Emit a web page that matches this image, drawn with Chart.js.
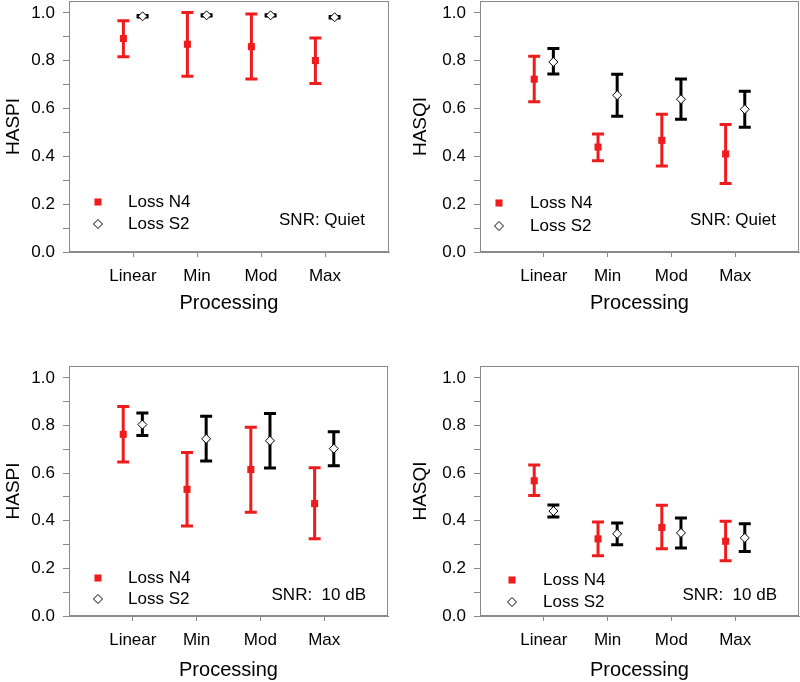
<!DOCTYPE html>
<html>
<head>
<meta charset="utf-8">
<script src="https://cdn.jsdelivr.net/npm/chart.js@4.4.1/dist/chart.umd.min.js"></script>
<style>
  body { margin: 0; background: #fff; }
  #wrap { position: relative; width: 800px; height: 682px; }
  canvas { position: absolute; }
</style>
</head>
<body>
<div id="wrap">
  <canvas id="c1" width="400" height="341" style="left:0;top:0"></canvas>
  <canvas id="c2" width="400" height="341" style="left:400px;top:0"></canvas>
  <canvas id="c3" width="400" height="341" style="left:0;top:341px"></canvas>
  <canvas id="c4" width="400" height="341" style="left:400px;top:341px"></canvas>
</div>
<script>
// categories and tick values
const categories = ['Linear', 'Min', 'Mod', 'Max'];
const yTickValues = [0, 0.1, 0.2, 0.3, 0.4, 0.5, 0.6, 0.7, 0.8, 0.9, 1.0];

// HASPI, quiet
const haspiQuietN4 = [0.893, 0.869, 0.859, 0.801];
const haspiQuietN4Lo = [0.817, 0.735, 0.724, 0.705];
const haspiQuietN4Hi = [0.967, 1.002, 0.996, 0.895];
const haspiQuietS2 = [0.986, 0.990, 0.990, 0.982];
const haspiQuietS2Lo = [0.983, 0.987, 0.987, 0.979];
const haspiQuietS2Hi = [0.989, 0.993, 0.993, 0.985];

// HASQI, quiet
const hasqiQuietN4 = [0.723, 0.439, 0.467, 0.410];
const hasqiQuietN4Lo = [0.629, 0.382, 0.360, 0.287];
const hasqiQuietN4Hi = [0.819, 0.494, 0.576, 0.533];
const hasqiQuietS2 = [0.795, 0.656, 0.639, 0.597];
const hasqiQuietS2Lo = [0.745, 0.568, 0.555, 0.522];
const hasqiQuietS2Hi = [0.851, 0.744, 0.724, 0.672];

// HASPI, 10 dB
const haspi10N4 = [0.763, 0.532, 0.615, 0.472];
const haspi10N4Lo = [0.647, 0.378, 0.436, 0.324];
const haspi10N4Hi = [0.880, 0.687, 0.793, 0.623];
const haspi10S2 = [0.804, 0.744, 0.736, 0.703];
const haspi10S2Lo = [0.758, 0.651, 0.622, 0.631];
const haspi10S2Hi = [0.853, 0.839, 0.851, 0.774];

// HASQI, 10 dB
const hasqi10N4 = [0.568, 0.324, 0.372, 0.314];
const hasqi10N4Lo = [0.506, 0.253, 0.282, 0.232];
const hasqi10N4Hi = [0.634, 0.395, 0.465, 0.398];
const hasqi10S2 = [0.441, 0.345, 0.349, 0.328];
const hasqi10S2Lo = [0.416, 0.299, 0.286, 0.271];
const hasqi10S2Hi = [0.466, 0.391, 0.412, 0.387];

const RED = '#ee1c1c';
const GRAY = '#8a8a8a';
Chart.defaults.font.family = '"Liberation Sans", Arial, sans-serif';
Chart.defaults.color = '#000';

const panels = [
  { id: 'c1', yTitle: 'HASPI', snr: 'SNR: Quiet',
    n4: [haspiQuietN4, haspiQuietN4Lo, haspiQuietN4Hi], s2: [haspiQuietS2, haspiQuietS2Lo, haspiQuietS2Hi],
    yW: 69, xH: 89, padR: 11, padT: 1, yTitlePad: 2, xTitlePad: 26,
    leg: { mx: 29, tx: 59, r1: -50, r2: -28, sx: -24, sy: -32 } },
  { id: 'c2', yTitle: 'HASQI', snr: 'SNR: Quiet',
    n4: [hasqiQuietN4, hasqiQuietN4Lo, hasqiQuietN4Hi], s2: [hasqiQuietS2, hasqiQuietS2Lo, hasqiQuietS2Hi],
    yW: 80, xH: 89, padR: 1, padT: 1, yTitlePad: 9, xTitlePad: 26,
    leg: { mx: 19, tx: 50, r1: -49, r2: -26, sx: -23, sy: -32 } },
  { id: 'c3', yTitle: 'HASPI', snr: 'SNR:  10 dB',
    n4: [haspi10N4, haspi10N4Lo, haspi10N4Hi], s2: [haspi10S2, haspi10S2Lo, haspi10S2Hi],
    yW: 69, xH: 66, padR: 12, padT: 25, yTitlePad: 2, xTitlePad: 0,
    leg: { mx: 29, tx: 59, r1: -38, r2: -17, sx: -22, sy: -21 } },
  { id: 'c4', yTitle: 'HASQI', snr: 'SNR:  10 dB',
    n4: [hasqi10N4, hasqi10N4Lo, hasqi10N4Hi], s2: [hasqi10S2, hasqi10S2Lo, hasqi10S2Hi],
    yW: 80, xH: 66, padR: 1, padT: 25, yTitlePad: 9, xTitlePad: 0,
    leg: { mx: 32, tx: 63, r1: -36, r2: -14, sx: -22, sy: -21 } }
];

// error bars under the markers
const errorBars = {
  id: 'errorBars',
  beforeDatasetsDraw(chart) {
    const { ctx, scales: { x, y } } = chart;
    chart.data.datasets.forEach(ds => {
      ctx.save();
      ctx.strokeStyle = ds.barColor;
      ctx.lineWidth = 3;
      ds.data.forEach((p, j) => {
        const px = x.getPixelForValue(p.x);
        const top = y.getPixelForValue(ds.hi[j]);
        const bot = y.getPixelForValue(ds.lo[j]);
        ctx.beginPath();
        ctx.moveTo(px, top); ctx.lineTo(px, bot);
        ctx.moveTo(px - 6, top); ctx.lineTo(px + 6, top);
        ctx.moveTo(px - 6, bot); ctx.lineTo(px + 6, bot);
        ctx.stroke();
      });
      ctx.restore();
    });
  }
};

// box frame, legend and SNR note
const frameAndNotes = {
  id: 'frameAndNotes',
  afterDraw(chart, args, opts) {
    const { ctx, chartArea: a } = chart;
    const leg = opts.leg;
    ctx.save();
    ctx.strokeStyle = GRAY;
    ctx.lineWidth = 1;
    ctx.strokeRect(a.left + 0.5, a.top + 0.5, a.right - a.left - 1, a.bottom - a.top - 1);

    ctx.font = '17px "Liberation Sans", Arial, sans-serif';
    ctx.textBaseline = 'middle';
    chart.data.datasets.forEach((ds, i) => {
      const yy = a.bottom + (i === 0 ? leg.r1 : leg.r2);
      ctx.fillStyle = ds.backgroundColor;
      ctx.strokeStyle = ds.borderColor;
      ctx.lineWidth = ds.borderWidth;
      Chart.helpers.drawPoint(ctx, { pointStyle: ds.pointStyle, radius: ds.pointRadius, rotation: 0, borderWidth: ds.borderWidth }, a.left + leg.mx, yy);
      ctx.fillStyle = '#000';
      ctx.textAlign = 'left';
      ctx.fillText(ds.label, a.left + leg.tx, yy);
    });
    ctx.textAlign = 'right';
    ctx.fillStyle = '#000';
    ctx.fillText(opts.snr, a.right + leg.sx, a.bottom + leg.sy);
    ctx.restore();
  }
};

panels.forEach(p => {
  const n4 = p.n4[0].map((v, i) => ({ x: i + 1 - 0.15, y: v }));
  const s2 = p.s2[0].map((v, i) => ({ x: i + 1 + 0.15, y: v }));

  new Chart(document.getElementById(p.id), {
    type: 'scatter',
    data: {
      datasets: [
        { label: 'Loss N4', data: n4, lo: p.n4[1], hi: p.n4[2], barColor: RED,
          pointStyle: 'rect', pointRadius: 5, backgroundColor: RED, borderColor: RED, borderWidth: 0 },
        { label: 'Loss S2', data: s2, lo: p.s2[1], hi: p.s2[2], barColor: '#000',
          pointStyle: 'rectRot', pointRadius: 4.5, backgroundColor: '#fff', borderColor: '#000', borderWidth: 1 }
      ]
    },
    options: {
      responsive: false,
      animation: false,
      layout: { autoPadding: false, padding: { left: 0, right: p.padR, top: p.padT, bottom: 0 } },
      plugins: {
        legend: { display: false },
        tooltip: { enabled: false },
        frameAndNotes: { leg: p.leg, snr: p.snr }
      },
      scales: {
        x: {
          type: 'linear', min: 0, max: 5,
          afterBuildTicks: s => { s.ticks = [1, 2, 3, 4].map(v => ({ value: v })); },
          afterFit: s => { s.height = p.xH; s.paddingLeft = 0; s.paddingRight = 0; },
          grid: { drawOnChartArea: false, tickLength: 5, color: GRAY },
          border: { color: GRAY },
          ticks: { callback: (v, i) => categories[i], font: { size: 17 }, color: '#000', padding: 9, maxRotation: 0, autoSkip: false },
          title: { display: true, text: 'Processing', font: { size: 20 }, color: '#000', padding: { top: 0, bottom: p.xTitlePad } }
        },
        y: {
          min: 0, max: 1.05,
          afterBuildTicks: s => { s.ticks = yTickValues.map(v => ({ value: v })); },
          afterFit: s => { s.width = p.yW; s.paddingTop = 0; s.paddingBottom = 0; },
          grid: { drawOnChartArea: false, tickLength: 6, color: GRAY },
          border: { color: GRAY },
          ticks: { callback: (v, i) => i % 2 === 0 ? v.toFixed(1) : '', font: { size: 17 }, color: '#000', padding: 8, autoSkip: false },
          title: { display: true, text: p.yTitle, font: { size: 19 }, color: '#000', padding: { top: p.yTitlePad, bottom: 0 } }
        }
      }
    },
    plugins: [errorBars, frameAndNotes]
  });
});
</script>
</body>
</html>
